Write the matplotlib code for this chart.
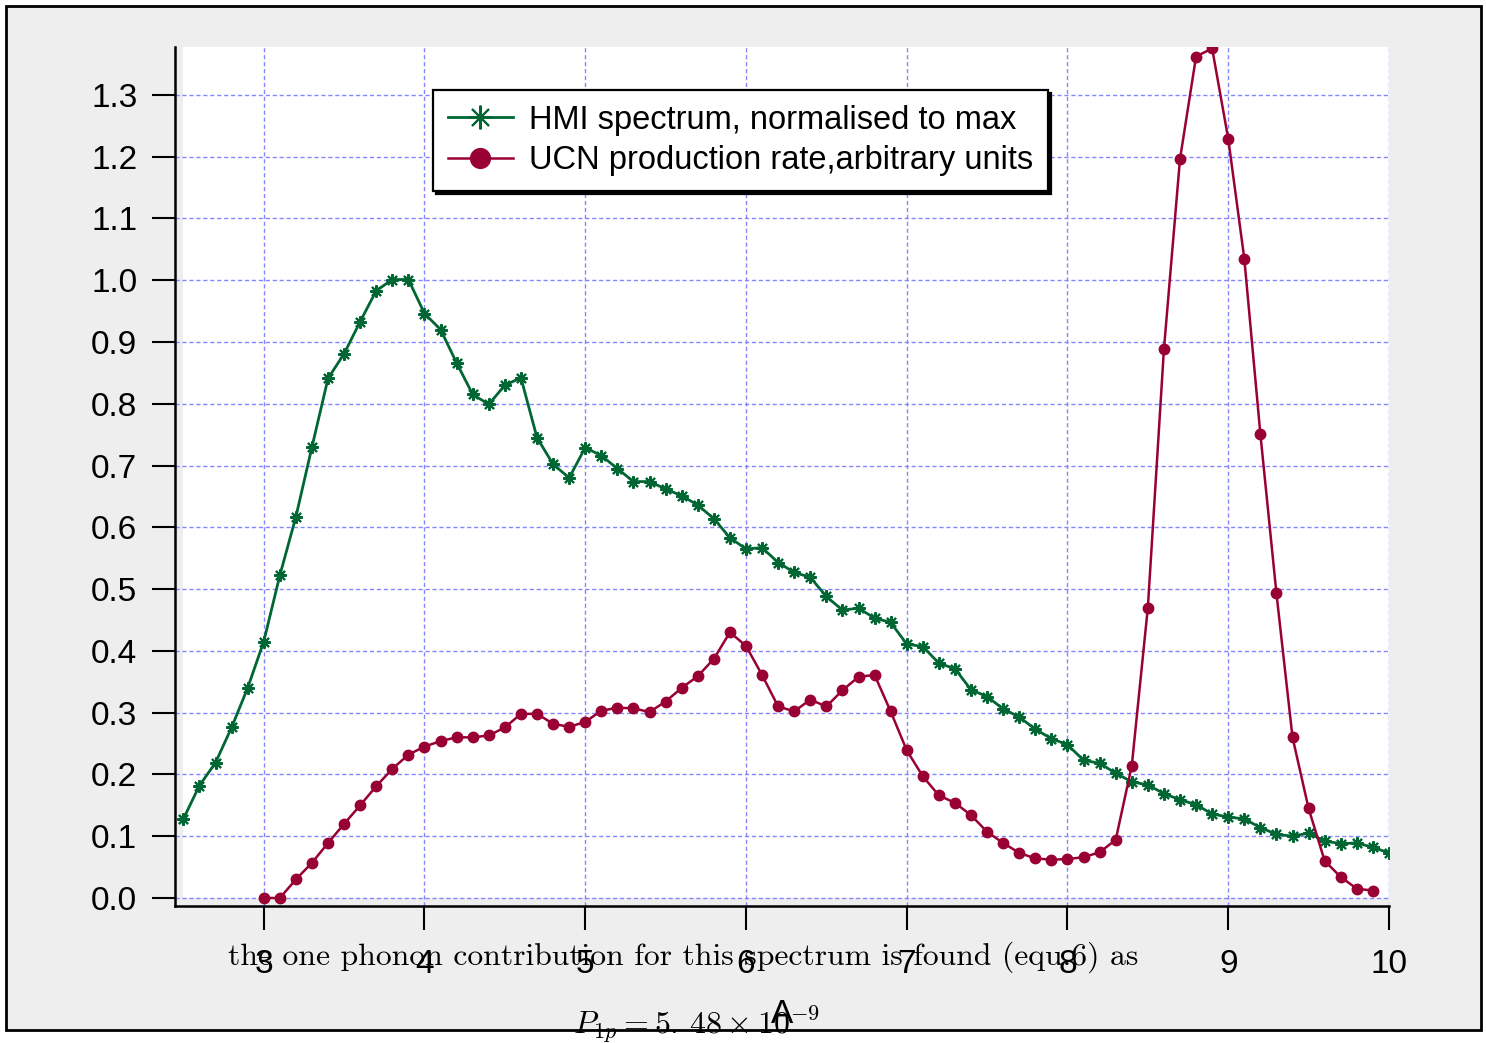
import matplotlib
matplotlib.use('Agg')
import matplotlib.pyplot as plt
from matplotlib.patches import Rectangle

plt.rcParams['font.family'] = ['Liberation Sans', 'DejaVu Sans']
plt.rcParams['mathtext.fontset'] = 'cm'

# HMI spectrum, 2.5 .. 10.0 in steps of 0.1
hmi_x = [2.5, 2.6, 2.7, 2.8, 2.9, 3.0, 3.1, 3.2, 3.3, 3.4, 3.5, 3.6, 3.7, 3.8, 3.9,
         4.0, 4.1, 4.2, 4.3, 4.4, 4.5, 4.6, 4.7, 4.8, 4.9, 5.0, 5.1, 5.2, 5.3, 5.4,
         5.5, 5.6, 5.7, 5.8, 5.9, 6.0, 6.1, 6.2, 6.3, 6.4, 6.5, 6.6, 6.7, 6.8, 6.9,
         7.0, 7.1, 7.2, 7.3, 7.4, 7.5, 7.6, 7.7, 7.8, 7.9, 8.0, 8.1, 8.2, 8.3, 8.4,
         8.5, 8.6, 8.7, 8.8, 8.9, 9.0, 9.1, 9.2, 9.3, 9.4, 9.5, 9.6, 9.7, 9.8, 9.9, 10.0]
hmi_y = [0.128, 0.182, 0.219, 0.276, 0.340, 0.415, 0.522, 0.617, 0.730, 0.841,
         0.881, 0.933, 0.983, 1.001, 1.001, 0.946, 0.920, 0.866, 0.815, 0.799,
         0.830, 0.842, 0.745, 0.702, 0.680, 0.729, 0.716, 0.695, 0.674, 0.674,
         0.662, 0.651, 0.636, 0.614, 0.583, 0.565, 0.567, 0.543, 0.527, 0.519,
         0.488, 0.466, 0.469, 0.453, 0.446, 0.411, 0.407, 0.380, 0.371, 0.337,
         0.326, 0.306, 0.293, 0.273, 0.258, 0.248, 0.223, 0.218, 0.202, 0.188,
         0.183, 0.169, 0.159, 0.151, 0.136, 0.131, 0.128, 0.114, 0.103, 0.100,
         0.105, 0.092, 0.088, 0.089, 0.082, 0.073]

# UCN production rate, 3.0 .. 9.9 in steps of 0.1
ucn_x = [3.0, 3.1, 3.2, 3.3, 3.4, 3.5, 3.6, 3.7, 3.8, 3.9,
         4.0, 4.1, 4.2, 4.3, 4.4, 4.5, 4.6, 4.7, 4.8, 4.9,
         5.0, 5.1, 5.2, 5.3, 5.4, 5.5, 5.6, 5.7, 5.8, 5.9,
         6.0, 6.1, 6.2, 6.3, 6.4, 6.5, 6.6, 6.7, 6.8, 6.9,
         7.0, 7.1, 7.2, 7.3, 7.4, 7.5, 7.6, 7.7, 7.8, 7.9,
         8.0, 8.1, 8.2, 8.3, 8.4, 8.5, 8.6, 8.7, 8.8, 8.9,
         9.0, 9.1, 9.2, 9.3, 9.4, 9.5, 9.6, 9.7, 9.8, 9.9]
ucn_y = [0.000, 0.000, 0.030, 0.057, 0.089, 0.120, 0.150, 0.181, 0.209, 0.232,
         0.245, 0.254, 0.260, 0.260, 0.263, 0.276, 0.298, 0.298, 0.282, 0.277,
         0.285, 0.303, 0.308, 0.307, 0.301, 0.318, 0.340, 0.359, 0.387, 0.430,
         0.408, 0.361, 0.310, 0.302, 0.321, 0.310, 0.336, 0.358, 0.361, 0.302,
         0.239, 0.197, 0.166, 0.154, 0.134, 0.107, 0.089, 0.073, 0.064, 0.062,
         0.063, 0.066, 0.074, 0.094, 0.214, 0.470, 0.888, 1.196, 1.362, 1.375,
         1.229, 1.035, 0.751, 0.493, 0.260, 0.145, 0.060, 0.034, 0.015, 0.012]

x_ticks = [3, 4, 5, 6, 7, 8, 9, 10]
y_ticks = [0.0, 0.1, 0.2, 0.3, 0.4, 0.5, 0.6, 0.7, 0.8, 0.9, 1.0, 1.1, 1.2, 1.3]

green = '#006633'
crimson = '#990033'
grid_col = '#8585ff'
grey = '#eeeeee'

fig = plt.figure(figsize=(14.86, 10.43), dpi=100)
fig.patch.set_facecolor('white')

# grey framed background, behind the axes
fig.patches.append(Rectangle((0.004, 0.0125), 0.9926, 0.9817, transform=fig.transFigure,
                             facecolor=grey, edgecolor='black', linewidth=2, zorder=-5))

ax = fig.add_axes([0.1181, 0.1314, 0.8166, 0.8239])
ax.set_facecolor(grey)
ax.set_xlim(2.451, 10.0)
ax.set_ylim(-0.0129, 1.378)

# white plotting area, a bit inside the axis lines
ax.add_patch(Rectangle((2.5, 0), 7.5, 1.378, facecolor='white', edgecolor='none', zorder=0.1))

ax.plot(hmi_x, hmi_y, color=green, lw=2, marker=(8, 2, 0), ms=9, mew=1.5,
        label='HMI spectrum, normalised to max', zorder=3)
ax.plot(ucn_x, ucn_y, color=crimson, lw=1.8, marker='o', ms=7.5,
        label='UCN production rate,arbitrary units', zorder=3)

ax.set_xticks(x_ticks)
ax.set_yticks(y_ticks)
ax.set_yticklabels(['%.1f' % v for v in y_ticks])

ax.grid(True, color=grid_col, lw=1, linestyle=(0, (3, 2)))
ax.set_axisbelow(True)

for s in ['top', 'right']:
    ax.spines[s].set_visible(False)
for s in ['left', 'bottom']:
    ax.spines[s].set_linewidth(1.8)

ax.tick_params(axis='both', direction='out', width=1.5, labelsize=24)
ax.tick_params(axis='y', length=16.5, pad=11)
ax.tick_params(axis='x', length=17, pad=14)

ax.set_xlabel('A', fontsize=24, labelpad=14)

leg = ax.legend(loc='upper left', bbox_to_anchor=(0.2122, 0.9496), borderaxespad=0,
                fontsize=23.5, fancybox=False, framealpha=1, edgecolor='black',
                shadow={'color': 'black', 'alpha': 1, 'ox': 2, 'oy': -2},
                markerscale=1.9, handlelength=2.0, handletextpad=0.5,
                labelspacing=0.3, borderpad=0.45)
leg.get_frame().set_linewidth(1.6)

fig.text(0.4596, 0.0748, 'the one phonon contribution for this spectrum is found (equ.6) as',
         family='cmr10', fontsize=22.8, ha='center', va='baseline')
fig.text(0.469, 0.0096, r'$P_{1p} = \mathrm{5.\,48} \times 10^{-9}$', fontsize=23,
         ha='center', va='baseline')

fig.savefig('out.png', dpi=100)
